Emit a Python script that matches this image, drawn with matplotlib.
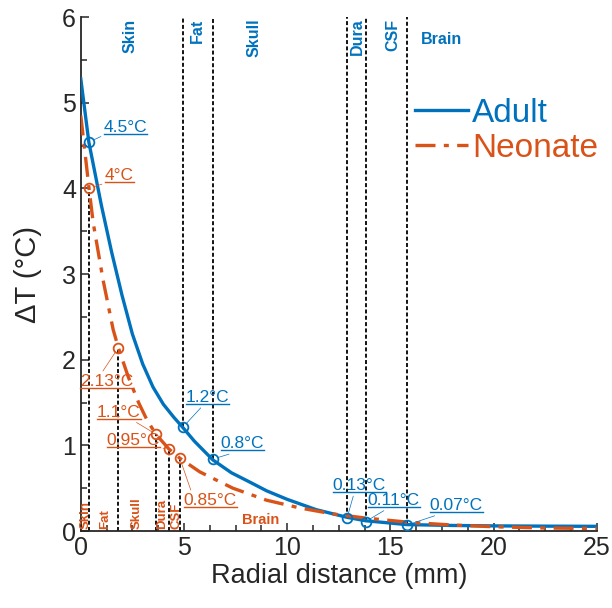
import numpy as np
import matplotlib
matplotlib.use("Agg")
import matplotlib.pyplot as plt
from matplotlib.lines import Line2D
from matplotlib.text import Text

plt.rcParams['font.family'] = ['Liberation Sans', 'DejaVu Sans']

# curves (mm, degC)
adult_x = [0, 0.39, 1.0, 1.5, 2.0, 2.5, 3.0, 3.5, 4.0, 4.5, 4.94, 5.5, 6.4, 7.3, 8.2, 9.0,
           10.0, 11.4, 12.9, 13.8, 15.8, 18.0, 20.0, 22.5, 25.0]
adult_t = [5.28, 4.54, 3.8, 3.25, 2.75, 2.3, 1.95, 1.68, 1.48, 1.33, 1.21, 1.05, 0.83, 0.68,
           0.57, 0.47, 0.37, 0.25, 0.16, 0.12, 0.075, 0.065, 0.06, 0.057, 0.055]
neo_x = [0, 0.4, 0.6, 1.08, 1.57, 1.82, 2.3, 2.8, 3.2, 3.64, 4.26, 4.8, 5.77, 7.37, 9.0,
         10.6, 12.2, 13.85, 16.0, 18.0, 20.0, 22.5, 25.0]
neo_t = [4.85, 4.0, 3.6, 2.93, 2.35, 2.14, 1.8, 1.5, 1.3, 1.13, 0.96, 0.85, 0.69, 0.5, 0.36,
         0.27, 0.2, 0.15, 0.1, 0.07, 0.05, 0.035, 0.03]

# marked points / tissue boundaries
adult_pt_x = [0.39, 4.94, 6.4, 12.9, 13.8, 15.8]
adult_pt_t = [4.54, 1.21, 0.84, 0.15, 0.11, 0.07]
adult_pt_lab = ['4.5°C', '1.2°C', '0.8°C', '0.13°C', '0.11°C', '0.07°C']
adult_bound = [4.94, 6.4, 12.9, 13.8, 15.8]
adult_bound_t = [1.21, 0.84, 0.15, 0.11, 0.07]

neo_pt_x = [0.4, 1.82, 3.64, 4.26, 4.8]
neo_pt_t = [4.0, 2.14, 1.13, 0.96, 0.85]
neo_pt_lab = ['4°C', '2.13°C', '1.1°C', '0.95°C', '0.85°C']

adult_layers = ['Skin', 'Fat', 'Skull', 'Dura', 'CSF']
adult_layer_x = [2.4, 5.67, 8.4, 13.4, 15.1]
neo_layers = ['Skin', 'Fat', 'Skull', 'Dura', 'CSF']
neo_layer_x = [0.22, 1.2, 2.7, 3.95, 4.62]

# annotation text placement (left, underline) and where the connector meets the text
adult_txt = [(1.11, 4.62), (5.09, 1.47), (6.78, 0.93), (12.21, 0.44), (13.9, 0.27), (16.91, 0.21)]
adult_rel = [(0, 0), (0.4, 0), (0.4, 0), (0.4, 0), (0.4, 0), (0.25, 0)]
neo_txt = [(1.16, 4.06), (-0.05, 1.66), (0.78, 1.30), (1.26, 0.97), (4.99, 0.27)]
neo_rel = [(0, 0), (0.4, 1), (0.8, 0), (1, 0), (0.15, 1)]

blue = '#0072BD'
orange = '#D95319'
axcol = '#262626'

fig = plt.figure(figsize=(6.12, 6.08), dpi=100)
ax = fig.add_axes([0.132, 0.1266, 0.843, 0.8454])

ax.plot(adult_x, adult_t, color=blue, lw=2.4, label='Adult', zorder=3)
ax.plot(neo_x, neo_t, color=orange, lw=2.4, ls=(0, (6, 2.5, 1.5, 2.5)), label='Neonate', zorder=3)

dash = (0, (2.2, 1.3))
for bx, bt in zip(adult_bound, adult_bound_t):
    ax.plot([bx, bx], [bt, 6], color='k', lw=1.3, ls=dash, zorder=2)
for bx, bt in zip(neo_pt_x, neo_pt_t):
    ax.plot([bx, bx], [0, bt], color='k', lw=1.3, ls=dash, zorder=2)

ax.plot(adult_pt_x, adult_pt_t, 'o', mfc='none', mec=blue, ms=7, mew=1.3, zorder=4)
ax.plot(neo_pt_x, neo_pt_t, 'o', mfc='none', mec=orange, ms=7, mew=1.3, zorder=4)

texts = []
for px, pt, lab, (tx, ty), rp in zip(adult_pt_x, adult_pt_t, adult_pt_lab, adult_txt, adult_rel):
    t = ax.annotate(lab, xy=(px, pt), xytext=(tx, ty), ha='left', va='bottom', fontsize=12.5,
                    color=blue, annotation_clip=False,
                    arrowprops=dict(arrowstyle='-', color=blue, lw=0.5, shrinkA=0, shrinkB=3.5, relpos=rp))
    texts.append((t, blue))
for px, pt, lab, (tx, ty), rp in zip(neo_pt_x, neo_pt_t, neo_pt_lab, neo_txt, neo_rel):
    t = ax.annotate(lab, xy=(px, pt), xytext=(tx, ty), ha='left', va='bottom', fontsize=12.5,
                    color=orange, annotation_clip=False,
                    arrowprops=dict(arrowstyle='-', color=orange, lw=0.5, shrinkA=0, shrinkB=3.5, relpos=rp))
    texts.append((t, orange))

for lab, lx in zip(adult_layers, adult_layer_x):
    ax.text(lx, 5.98, lab, rotation=90, ha='center', va='top', color=blue,
            fontsize=11.5, fontweight='bold')
ax.text(17.5, 5.74, 'Brain', ha='center', va='center', color=blue, fontsize=11.5, fontweight='bold')
for lab, lx in zip(neo_layers, neo_layer_x):
    ax.text(lx, 0.02, lab, rotation=90, ha='center', va='bottom', color=orange,
            fontsize=9.5, fontweight='bold')
ax.text(8.7, 0.13, 'Brain', ha='center', va='center', color=orange, fontsize=10.5, fontweight='bold')

ax.set_xlim(0, 25)
ax.set_ylim(0, 6)
ax.set_xticks(np.arange(0, 26, 5))
ax.set_xticks(np.arange(0, 25.01, 1.25), minor=True)
ax.set_yticks(np.arange(0, 7, 1))
ax.set_yticks(np.arange(0, 6.01, 0.5), minor=True)
for s in ['top', 'right']:
    ax.spines[s].set_visible(False)
for s in ['left', 'bottom']:
    ax.spines[s].set_color(axcol)
    ax.spines[s].set_linewidth(1.3)
ax.tick_params(which='both', direction='in', colors=axcol, labelsize=18, width=1.1)
ax.tick_params(which='major', length=6)
ax.tick_params(which='minor', length=4)
ax.set_xlabel('Radial distance (mm)', fontsize=19.5, color=axcol, labelpad=2)
ax.set_ylabel('ΔT (°C)', fontsize=21, color=axcol, labelpad=14)

leg = ax.legend(loc='upper left', bbox_to_anchor=(0.615, 0.875), frameon=False, fontsize=24,
                handlelength=1.6, handletextpad=0.12, labelspacing=0.12, borderpad=0)
for txt, h in zip(leg.get_texts(), leg.legend_handles):
    txt.set_color(h.get_color())

# underline the annotation labels (text only, not the connector)
fig.canvas.draw()
r = fig.canvas.get_renderer()
W, H = fig.bbox.width, fig.bbox.height
for t, c in texts:
    bb = Text.get_window_extent(t, r)
    fig.add_artist(Line2D([bb.x0 / W, bb.x1 / W], [(bb.y0 + 1) / H, (bb.y0 + 1) / H],
                          transform=fig.transFigure, color=c, lw=1.0))

fig.savefig('out.png', dpi=100)
